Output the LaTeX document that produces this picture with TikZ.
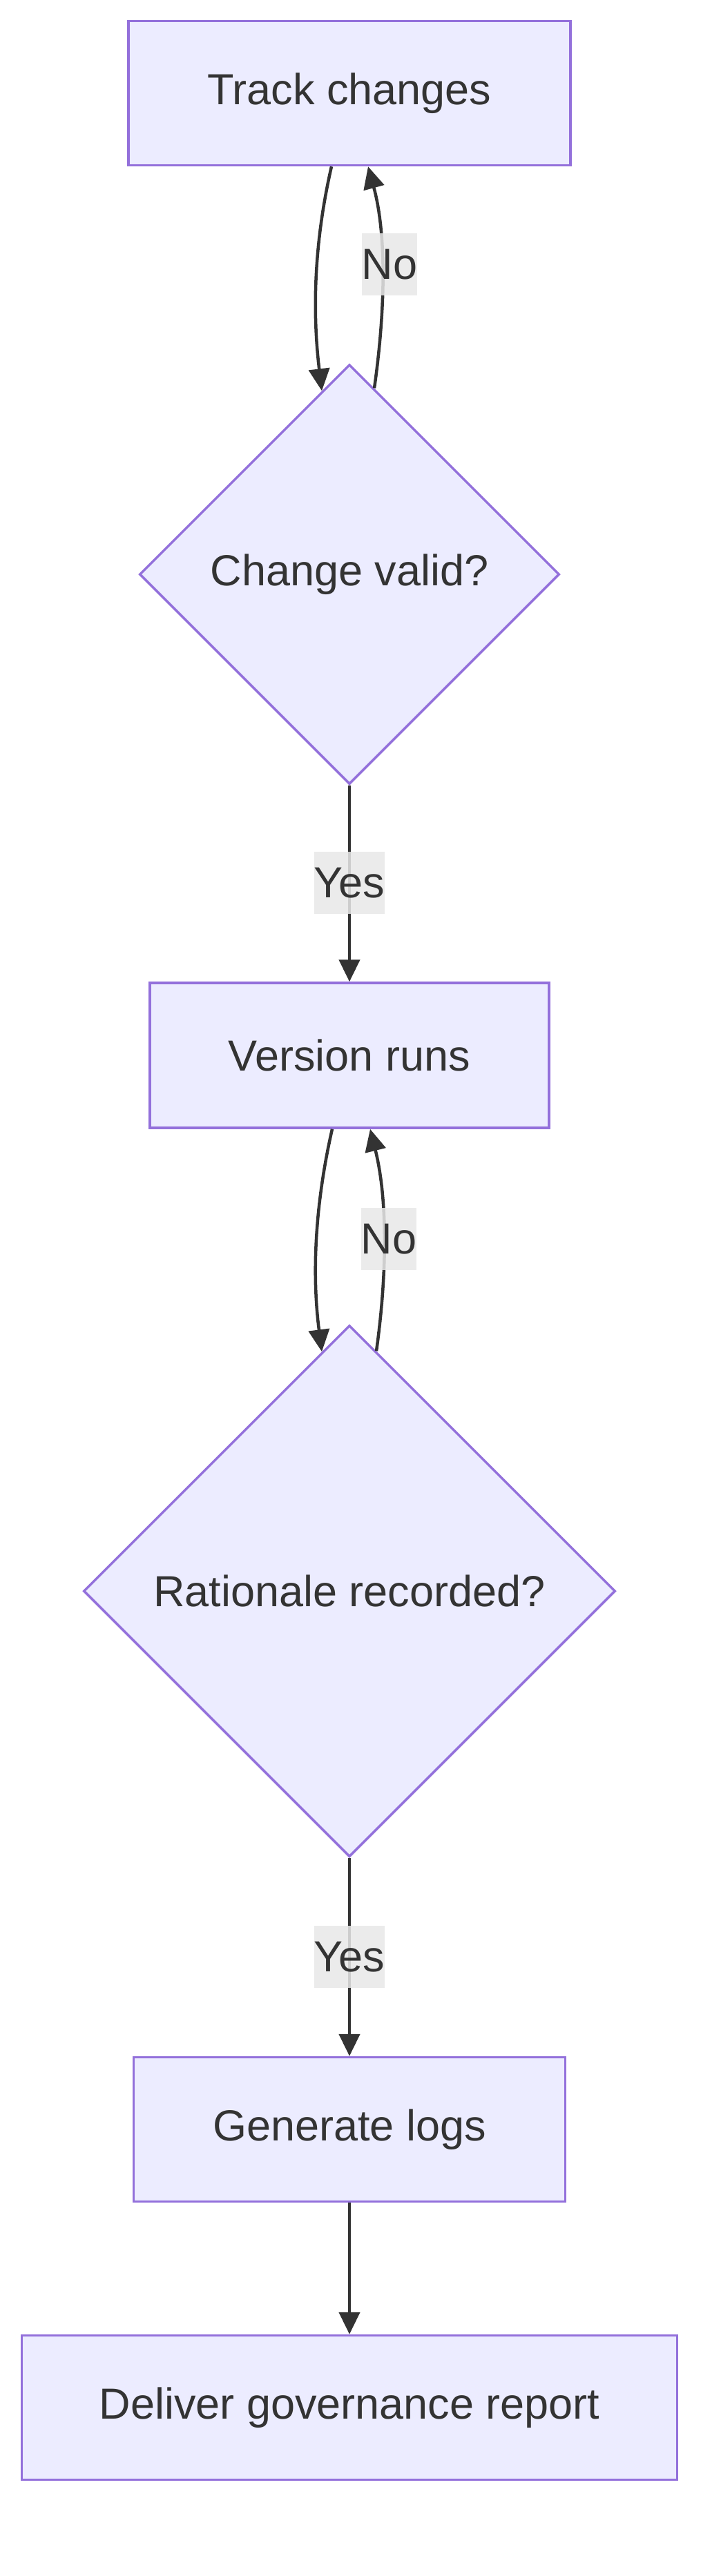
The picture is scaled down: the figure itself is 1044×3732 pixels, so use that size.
\documentclass[tikz,border=0pt]{standalone}
\usepackage{fontspec}
\setmainfont{Liberation Sans}
\usetikzlibrary{shapes.geometric,arrows.meta}
\definecolor{nodefill}{HTML}{ECECFF}
\definecolor{nodeline}{HTML}{9370DB}
\definecolor{edgecol}{HTML}{333333}
\definecolor{labelbg}{HTML}{E8E8E8}
\tikzset{
  box/.style={rectangle, draw=nodeline, fill=nodefill, line width=3.5pt, inner sep=0pt, text=edgecol, font=\fontsize{63}{75}\selectfont},
  decision/.style={diamond, draw=nodeline, fill=nodefill, line width=3.5pt, inner sep=0pt, aspect=1, text=edgecol, font=\fontsize{63}{75}\selectfont},
  edge/.style={draw=edgecol, line width=4.5pt, -{Triangle[length=32pt,width=30pt]}},
  elabel/.style={fill=labelbg, fill opacity=0.85, text opacity=1, text=edgecol, inner xsep=0pt, inner ysep=0pt, minimum height=90pt, font=\fontsize{63}{75}\selectfont}
}
\begin{document}
\begin{tikzpicture}[x=1pt,y=-1pt]
\path[use as bounding box] (0,0) rectangle (1044,3732);
\node[box, minimum width=640pt, minimum height=209pt] (track) at (506,135) {Track changes};
\node[decision, minimum width=608pt, minimum height=608pt] (d1) at (506,832) {Change valid?};
\node[box, minimum width=578pt, minimum height=210pt] (ver) at (506,1529) {Version runs};
\node[decision, minimum width=770pt, minimum height=770pt] (d2) at (506,2305) {Rationale recorded?};
\node[box, minimum width=625pt, minimum height=209pt] (gen) at (506,3085) {Generate logs};
\node[box, minimum width=949pt, minimum height=209pt] (del) at (506,3488) {Deliver governance report};

% loop 1
\draw[edge] ([xshift=-26pt]track.south) .. controls (455,350) and (452,450) .. ([xshift=-40pt,yshift=-40pt]d1.north);
\draw[edge] ([xshift=36pt,yshift=-36pt]d1.north) .. controls (558,450) and (560,340) .. ([xshift=27pt]track.south);
\node[elabel] (no1) at (564,383) {No};
% yes 1
\draw[edge] (d1.south) -- (ver.north);
\node[elabel] (yes1) at (506,1279) {Yes};
% loop 2
\draw[edge] ([xshift=-25pt]ver.south) .. controls (455,1750) and (452,1850) .. ([xshift=-40pt,yshift=-40pt]d2.north);
\draw[edge] ([xshift=39pt,yshift=-39pt]d2.north) .. controls (560,1850) and (562,1740) .. ([xshift=30pt]ver.south);
\node[elabel] (no2) at (563,1795) {No};
% yes 2
\draw[edge] (d2.south) -- (gen.north);
\node[elabel] (yes2) at (506,2835) {Yes};
\draw[edge] (gen.south) -- (del.north);
\end{tikzpicture}
\end{document}
